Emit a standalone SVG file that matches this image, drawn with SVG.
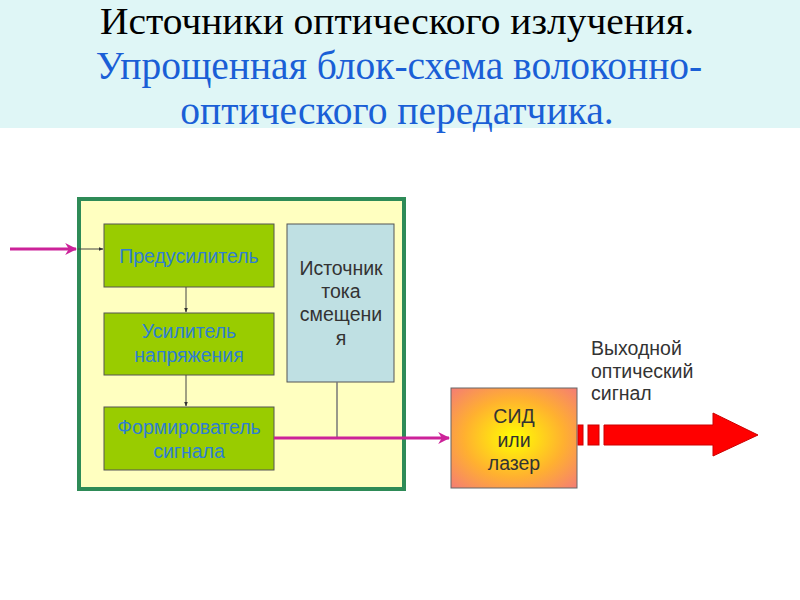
<svg xmlns="http://www.w3.org/2000/svg" width="800" height="600" viewBox="0 0 800 600">
<defs>
<style>
.title{font-family:"Liberation Serif","Times New Roman",serif;font-size:39.5px;text-anchor:middle}
.blk{stroke:#555;stroke-width:1}
.gt{font-family:"Liberation Sans",Arial,sans-serif;font-size:19.5px;fill:#2f7fd0;text-anchor:middle}
.dt{font-family:"Liberation Sans",Arial,sans-serif;font-size:19.5px;fill:#333;text-anchor:middle}
.mag{stroke:#cc2299;stroke-width:3;fill:none}
.thin{stroke:#444;stroke-width:1;fill:none}
</style>
<marker id="mArr" viewBox="0 0 10 10" refX="9" refY="5" markerWidth="4" markerHeight="4" orient="auto" markerUnits="strokeWidth">
<path d="M0,0 L10,5 L0,10 L3,5 Z" fill="#cc2299"/>
</marker>
<marker id="sArr" viewBox="0 0 10 10" refX="9" refY="5" markerWidth="5" markerHeight="5" orient="auto" markerUnits="strokeWidth">
<path d="M0,1 L10,5 L0,9 Z" fill="#333"/>
</marker>
<radialGradient id="led" cx="0.5" cy="0.5" r="0.72">
<stop offset="0" stop-color="#ffff00"/>
<stop offset="0.55" stop-color="#ffb030"/>
<stop offset="1" stop-color="#f47a78"/>
</radialGradient>
</defs>
<rect x="0" y="0" width="800" height="128" fill="#dff6f6"/>
<text class="title" x="397" y="34" fill="#000" style="font-size:37px" textLength="594" lengthAdjust="spacingAndGlyphs">Источники оптического излучения.</text>
<text class="title" x="399" y="79" fill="#1a5fd6">Упрощенная блок-схема волоконно-</text>
<text class="title" x="397" y="124" fill="#1a5fd6">оптического передатчика.</text>

<g id="outer"><rect x="79" y="199" width="325" height="290" fill="#ffffc0" stroke="#2e8b57" stroke-width="4"/></g>

<g id="preamp"><rect class="blk" x="104" y="224" width="170" height="63" fill="#99cc00"/>
<text class="gt" x="189" y="263">Предусилитель</text></g>
<g id="vamp"><rect class="blk" x="104" y="313" width="170" height="62" fill="#99cc00"/>
<text class="gt" x="189" y="338">Усилитель</text><text class="gt" x="189" y="362">напряжения</text></g>
<g id="shaper"><rect class="blk" x="104" y="407" width="170" height="63" fill="#99cc00"/>
<text class="gt" x="189" y="434">Формирователь</text><text class="gt" x="189" y="458">сигнала</text></g>
<g id="bias"><rect class="blk" x="287" y="224" width="107" height="158" fill="#bfe0e3"/>
<text class="dt" x="341" y="275">Источник</text><text class="dt" x="341" y="298">тока</text><text class="dt" x="341" y="321">смещени</text><text class="dt" x="341" y="345">я</text></g>
<g id="led-node"><rect x="451" y="388" width="126" height="100" fill="url(#led)" stroke="#666" stroke-width="1"/>
<text class="dt" x="514" y="423" font-size="20">СИД</text><text class="dt" x="514" y="447" font-size="20">или</text><text class="dt" x="514" y="470" font-size="20">лазер</text></g>
<g id="out-label" font-family="'Liberation Sans',Arial,sans-serif" font-size="19.5" fill="#333">
<text x="591" y="355">Выходной</text><text x="591" y="378">оптический</text><text x="591" y="400">сигнал</text></g>

<g id="connectors">
<line class="mag" x1="10" y1="249" x2="76" y2="249" marker-end="url(#mArr)"/>
<line class="thin" x1="78" y1="249" x2="103" y2="249" marker-end="url(#sArr)"/>
<line class="thin" x1="186" y1="287" x2="186" y2="312" marker-end="url(#sArr)"/>
<line class="thin" x1="186" y1="375" x2="186" y2="406" marker-end="url(#sArr)"/>
<line x1="337" y1="382" x2="337" y2="438" stroke="#777" stroke-width="1.5"/>
<line class="mag" x1="274" y1="438" x2="449" y2="438" marker-end="url(#mArr)"/>
<g id="beam" fill="#ff0000" stroke="#cc0000" stroke-width="1">
<rect x="578" y="425" width="5" height="20"/>
<rect x="588" y="425" width="11" height="20"/>
<path d="M604,425 L713,425 L713,413 L758,435 L713,456 L713,445 L604,445 Z"/>
</g>
</g>
</svg>
